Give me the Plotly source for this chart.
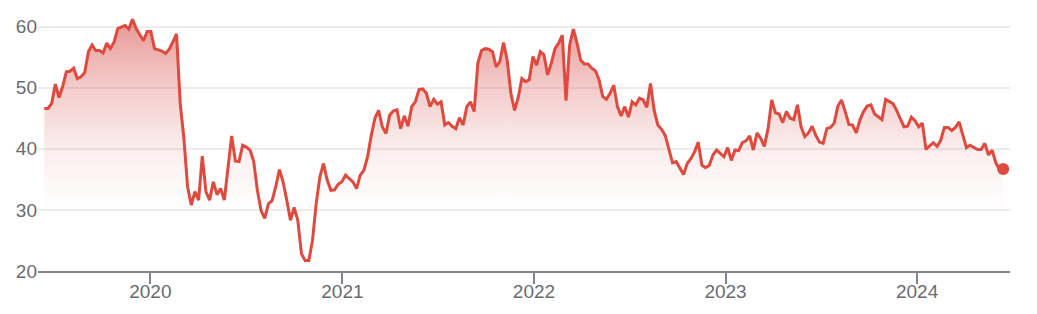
import plotly.graph_objects as go
import pandas as pd

# Weekly closing values
start_date = "2019-06-13"
prices = [
    # 2019 H2
    46.6, 46.6, 47.4, 50.6, 48.4, 50.2, 52.6, 52.7, 53.2, 51.5, 51.8, 52.5,
    55.9, 57.0, 56.1, 56.1, 55.7, 57.3, 56.4, 57.5, 59.7, 59.9, 60.2, 59.6,
    61.2, 59.7, 58.8, 57.7, 59.2, 59.2, 56.4, 56.2, 56.0,
    # 2020
    55.6, 56.3, 57.5, 58.8, 47.4, 41.7, 33.8, 30.8, 33.0, 31.6, 38.8, 33.0,
    31.6, 34.6, 32.5, 33.5, 31.6, 37.0, 42.1, 38.0, 37.9, 40.6, 40.3, 39.8,
    37.9, 33.2, 29.9, 28.6, 31.0, 31.5, 33.8, 36.6,
    34.6, 31.6, 28.3, 30.4, 28.3, 22.8, 21.7, 21.7, 25.0, 31.0, 35.4, 37.6,
    34.9, 33.2, 33.3, 34.2, 34.6, 35.7, 35.1, 34.6, 33.5, 35.7, 36.5, 38.7,
    # 2021
    42.2, 45.0, 46.3, 43.6, 42.5, 45.5, 46.2, 46.4, 43.3,
    45.4, 43.7, 46.9, 47.7, 49.7, 49.8, 49.1, 46.9, 48.1, 47.3, 47.7, 43.9,
    44.3, 43.7, 43.3, 45.1, 43.9, 46.9, 47.7, 46.1, 54.0, 56.1, 56.4, 56.3,
    55.9, 53.4, 54.3, 57.4, 54.5, 49.1, 46.3, 48.4, 51.5,
    # 2022
    51.0, 51.3, 55.1, 53.7, 55.9, 55.4, 52.1, 54.0, 56.4, 57.3, 58.6, 47.9,
    57.0, 59.6, 57.3, 54.5, 53.9, 53.9, 53.2, 52.8, 51.3, 48.6, 48.1, 49.1,
    50.4, 46.9, 45.4, 46.9, 45.2, 47.7, 47.2, 48.3,
    48.0, 46.8, 50.7, 46.3, 43.9, 43.2, 42.2, 40.1, 37.7, 37.9, 36.9, 35.8,
    37.6, 38.4, 39.5, 41.1, 37.3, 36.9, 37.3, 39.0, 39.8, 39.3, 38.7, 40.2,
    # 2023
    38.1, 39.8, 39.7, 41.0, 41.3, 42.1, 39.8, 42.6, 41.7,
    40.4, 43.3, 48.0, 45.9, 45.7, 44.3, 46.1, 45.0, 44.8, 47.2, 43.6, 42.0,
    42.6, 43.7, 42.2, 41.1, 40.9, 43.3, 43.5, 44.2, 47.0, 48.0, 46.1, 44.0,
    43.9, 42.6, 44.7, 46.1, 47.0, 47.2, 45.7, 45.2, 44.8,
    48.1, 47.7, 47.4, 46.3, 45.0, 43.6, 43.7, 45.2, 44.6, 43.6, 44.2,
    # 2024
    39.9, 40.5, 41.0, 40.4, 41.4, 43.5, 43.5, 43.0, 43.5, 44.4, 42.4, 40.2,
    40.6, 40.2, 39.9, 39.9, 40.9, 39.0, 39.8, 37.7, 36.6, 36.7,
]

y_tick_vals = [20, 30, 40, 50, 60]
x_tick_vals = ["2020-01-01", "2021-01-01", "2022-01-01", "2023-01-01", "2024-01-01"]
x_tick_labels = ["2020", "2021", "2022", "2023", "2024"]

dates = pd.date_range(start_date, periods=len(prices), freq="7D")

LINE = "#e04a3e"
FONT = "Liberation Sans, Arial, sans-serif"
LABEL = "#686c70"
AXIS = "#80868b"

fig = go.Figure()
fig.add_trace(go.Scatter(
    x=dates, y=prices, mode="lines",
    line=dict(color=LINE, width=3),
    fill="tozeroy",
    fillgradient=dict(
        type="vertical", start=30, stop=61,
        colorscale=[
            [0.0, "rgba(210,60,55,0)"],
            [0.32, "rgba(210,60,55,0.09)"],
            [0.645, "rgba(210,60,55,0.26)"],
            [1.0, "rgba(210,60,55,0.52)"],
        ],
    ),
    hoverinfo="skip",
))
fig.add_trace(go.Scatter(
    x=[dates[-1]], y=[prices[-1]], mode="markers",
    marker=dict(size=12, color=LINE), hoverinfo="skip",
))

fig.update_layout(
    width=1037, height=314,
    margin=dict(l=38, r=27, t=12, b=43, autoexpand=False),
    plot_bgcolor="white", paper_bgcolor="white",
    showlegend=False,
    font=dict(family=FONT, size=19, color=LABEL),
)
fig.update_xaxes(
    range=["2019-06-01", "2024-06-26"],
    tickvals=x_tick_vals, ticktext=x_tick_labels,
    ticks="outside", ticklen=11, tickwidth=2, tickcolor=AXIS,
    showline=True, linecolor=AXIS, linewidth=2,
    showgrid=False, zeroline=False, automargin=False,
    ticklabelstandoff=-9,
    tickfont=dict(family=FONT, size=19, color=LABEL),
)
fig.update_yaxes(
    range=[20, 62.4], tickvals=y_tick_vals,
    showgrid=True, gridcolor="#ececec", gridwidth=1.5,
    zeroline=False, ticks="", showline=False, automargin=False,
    tickfont=dict(family=FONT, size=19, color=LABEL),
)

fig.write_html("out.html", config={"displayModeBar": False})
